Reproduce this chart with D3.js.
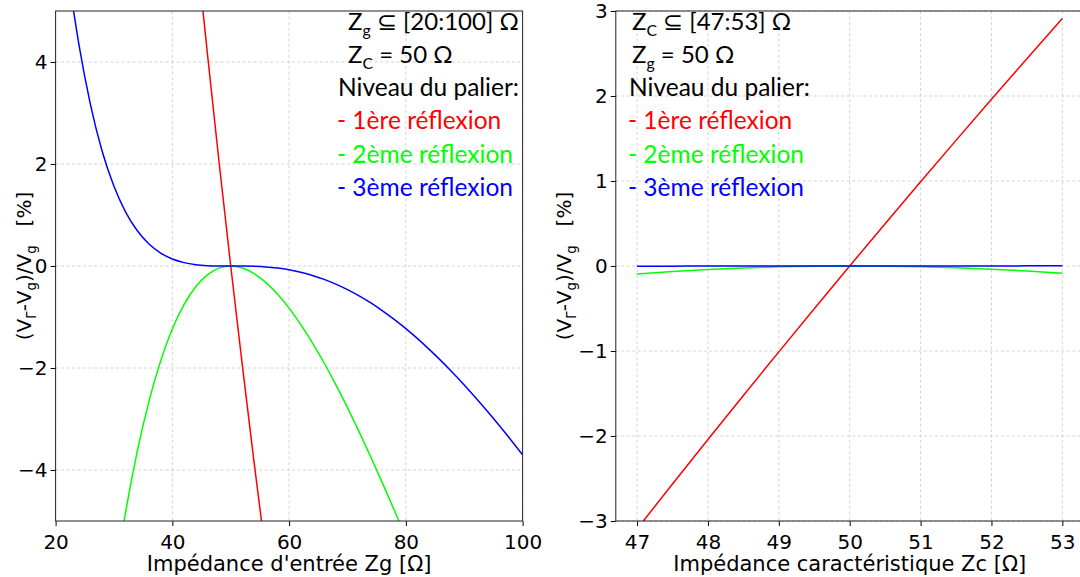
<!DOCTYPE html>
<html><head><meta charset="utf-8">
<script src="https://cdn.jsdelivr.net/npm/d3@7"></script>
<style>body{margin:0;background:#fff;} svg{display:block;}</style>
</head><body><svg id="c" width="1080" height="577"></svg>
<script>
// ---------- Data ----------
// Left panel: Zg varies, Zc = 50 ohm
const zgRedX   = [44, 46, 48, 50, 52, 54, 56];
const zgRedY   = [6.38, 4.17, 2.04, 0, -1.96, -3.85, -5.66];
const zgGreenX = [30, 32, 34, 36, 38, 40, 42, 44, 46, 48, 50, 52, 54, 56, 58, 60, 62, 64, 66, 68, 70, 72, 74, 76, 78, 80];
const zgGreenY = [-6.25, -4.82, -3.63, -2.65, -1.86, -1.23, -0.756, -0.407, -0.174, -0.042, 0, -0.038, -0.148, -0.320, -0.549, -0.826, -1.148, -1.508, -1.902, -2.327, -2.778, -3.252, -3.746, -4.258, -4.785, -5.325];
const zgBlueX  = [20, 22, 24, 26, 28, 30, 32, 34, 36, 38, 40, 42, 44, 46, 48, 50, 52, 54, 56, 58, 60, 62, 64, 66, 68, 70, 72, 74, 76, 78, 80, 82, 84, 86, 88, 90, 92, 94, 96, 98, 100];
const zgBlueY  = [7.87, 5.88, 4.34, 3.15, 2.24, 1.563, 1.058, 0.691, 0.431, 0.254, 0.137, 0.066, 0.026, 0.007, 0.001, 0, -0.001, -0.006, -0.018, -0.041, -0.075, -0.123, -0.185, -0.262, -0.355, -0.463, -0.586, -0.725, -0.879, -1.047, -1.229, -1.425, -1.634, -1.855, -2.088, -2.332, -2.588, -2.853, -3.128, -3.411, -3.704];

// Right panel: Zc varies, Zg = 50 ohm
const zcX     = [47, 47.5, 48, 48.5, 49, 49.5, 50, 50.5, 51, 51.5, 52, 52.5, 53];
const zcRed   = [-3.093, -2.564, -2.041, -1.523, -1.010, -0.503, 0, 0.498, 0.990, 1.478, 1.961, 2.439, 2.913];
const zcGreen = [-0.0957, -0.0657, -0.0416, -0.0232, -0.0102, -0.0025, 0, -0.0025, -0.0098, -0.0218, -0.0384, -0.0595, -0.0848];
const zcBlue  = [-0.0030, -0.0017, -0.0009, -0.0004, -0.0001, 0, 0, 0, 0.0001, 0.0003, 0.0008, 0.0015, 0.0025];

const leftXTicks  = [20, 40, 60, 80, 100];
const leftYTicks  = [-4, -2, 0, 2, 4];
const rightXTicks = [47, 48, 49, 50, 51, 52, 53];
const rightYTicks = [-3, -2, -1, 0, 1, 2, 3];

const seriesColors = ["#ff0000", "#00ff00", "#0000ff"];
const legendLines  = ["- 1ère réflexion", "- 2ème réflexion", "- 3ème réflexion"];

// ---------- Drawing ----------
const svg = d3.select("#c");
const tickFont = "'DejaVu Sans', sans-serif";
const annoFont = "Lato, 'Open Sans', sans-serif";
const NB = "\u00a0";

function richText(g, x, y, segs, opts) {
  const t = g.append("text").attr("x", x).attr("y", y)
    .attr("font-family", opts.font).attr("font-size", opts.size)
    .attr("fill", opts.fill || "#000").style("white-space", "pre");
  if (opts.anchor) t.attr("text-anchor", opts.anchor);
  if (opts.transform) t.attr("transform", opts.transform);
  let down = 0;
  segs.forEach(s => {
    const sp = t.append("tspan").text(s.t);
    const target = s.sub ? opts.size * 0.26 : 0;
    if (target !== down) { sp.attr("dy", target - down); down = target; }
    if (s.sub) sp.attr("font-size", opts.size * 0.66);
  });
  return t;
}

function panel(cfg, idx) {
  const x = d3.scaleLinear().domain(cfg.xDomain).range(cfg.xRange);
  const y = d3.scaleLinear().domain(cfg.yDomain).range([521, 11]);
  const [x0, x1] = cfg.xRange;
  const g = svg.append("g");
  const clipId = "clip" + idx;
  g.append("clipPath").attr("id", clipId).append("rect")
    .attr("x", x0).attr("y", 11).attr("width", x1 - x0).attr("height", 510);

  // grid
  const grid = g.append("g").attr("stroke", "#c8c8c8").attr("stroke-width", 0.8)
    .attr("stroke-dasharray", "3,2.5");
  cfg.xTicks.forEach(v => grid.append("line").attr("x1", x(v)).attr("x2", x(v)).attr("y1", 11).attr("y2", 521));
  cfg.yTicks.forEach(v => grid.append("line").attr("x1", x0).attr("x2", x1).attr("y1", y(v)).attr("y2", y(v)));

  // curves
  const line = d3.line().x(d => x(d[0])).y(d => y(d[1])).curve(d3.curveMonotoneX);
  const cg = g.append("g").attr("clip-path", `url(#${clipId})`);
  cfg.series.forEach((s, i) => {
    const pts = s.x.map((v, k) => [v, s.y[k]]);
    cg.append("path").datum(pts).attr("d", line).attr("fill", "none")
      .attr("stroke", seriesColors[i]).attr("stroke-width", 1.5);
  });

  // axes
  const xa = g.append("g").attr("transform", "translate(0,521)")
    .call(d3.axisBottom(x).tickValues(cfg.xTicks).tickSize(5).tickPadding(4).tickFormat(d3.format("d")));
  const ya = g.append("g").attr("transform", `translate(${x0},0)`)
    .call(d3.axisLeft(y).tickValues(cfg.yTicks).tickSize(5).tickPadding(3).tickFormat(d3.format("d")));
  [xa, ya].forEach(a => {
    a.select(".domain").remove();
    a.selectAll("text").attr("font-family", tickFont).attr("font-size", 20).attr("fill", "#000");
    a.selectAll("line").attr("stroke", "#000");
  });
  xa.selectAll("text").attr("dy", "0.95em");

  // frame
  g.append("rect").attr("x", x0).attr("y", 11).attr("width", x1 - x0).attr("height", 510)
    .attr("fill", "none").attr("stroke", "#222").attr("stroke-width", 1);

  // axis labels
  g.append("text").attr("x", (x0 + x1) / 2).attr("y", 571).attr("text-anchor", "middle")
    .attr("font-family", tickFont).attr("font-size", 21).text(cfg.xLabel);
  richText(g, 0, 0, [
    {t: "(V"}, {t: "Γ", sub: true}, {t: "-V"}, {t: "g", sub: true}, {t: ")/V"}, {t: "g", sub: true}, {t: NB + NB + NB + "[%]"}
  ], {font: tickFont, size: 20, anchor: "middle", transform: `translate(${cfg.yLabelX},266) rotate(-90)`});

  // annotations
  const a = cfg.anno, fs = 24.5;
  richText(g, a.zx, 30, a.line1, {font: annoFont, size: 24});
  richText(g, a.zx, 63, a.line2, {font: annoFont, size: 24});
  richText(g, a.nx, 96, [{t: "Niveau du palier:"}], {font: annoFont, size: fs});
  legendLines.forEach((l, i) => {
    richText(g, a.nx - 1, 129 + i * 33.5, [{t: l}], {font: annoFont, size: fs, fill: seriesColors[i]});
  });
}

panel({
  xDomain: [20, 100], xRange: [55.6, 522.6], yDomain: [-5, 5],
  xTicks: leftXTicks, yTicks: leftYTicks,
  series: [{x: zgRedX, y: zgRedY}, {x: zgGreenX, y: zgGreenY}, {x: zgBlueX, y: zgBlueY}],
  xLabel: "Impédance d'entrée Zg [Ω]", yLabelX: 31,
  anno: {zx: 348, nx: 338,
    line1: [{t: "Z"}, {t: "g", sub: true}, {t: NB + "⊆" + NB + "[20:100] Ω"}],
    line2: [{t: "Z"}, {t: "C", sub: true}, {t: " = 50 Ω"}]}
}, 0);

panel({
  xDomain: [46.7, 53.3], xRange: [615.8, 1083.6], yDomain: [-3, 3],
  xTicks: rightXTicks, yTicks: rightYTicks,
  series: [{x: zcX, y: zcRed}, {x: zcX, y: zcGreen}, {x: zcX, y: zcBlue}],
  xLabel: "Impédance caractéristique Zc [Ω]", yLabelX: 571,
  anno: {zx: 632, nx: 629,
    line1: [{t: "Z"}, {t: "C", sub: true}, {t: NB + "⊆" + NB + "[47:53] Ω"}],
    line2: [{t: "Z"}, {t: "g", sub: true}, {t: " = 50 Ω"}]}
}, 1);
</script>
</body></html>
